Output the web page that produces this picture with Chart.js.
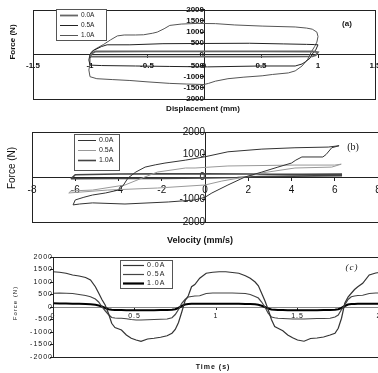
<!DOCTYPE html>
<html lang="en">
<head>
<meta charset="UTF-8">
<title>Damper force curves</title>
<script src="https://cdn.jsdelivr.net/npm/chart.js"></script>
<style>
  html, body { margin: 0; padding: 0; background: #fff; overflow: hidden; width: 378px; height: 373px; }
  canvas { position: absolute; left: 0; }
</style>
</head>
<body>
<canvas id="chartA" width="400" height="118" style="top:0px"></canvas>
<canvas id="chartB" width="400" height="128" style="top:118px"></canvas>
<canvas id="chartC" width="400" height="127" style="top:246px"></canvas>
<script>
// (a) force vs displacement
const dispA0 = [-1.0, -0.98, -0.95, -0.5, 0, 0.5, 0.95, 1.0, 0.98, 0.95, 0.5, 0, -0.5, -0.95, -1.0];
const forceA0 = [-100, 60, 130, 140, 140, 140, 130, 100, -40, -90, -100, -100, -100, -100, -100];
const dispA05 = [-1.0, -0.98, -0.96, -0.9, -0.85, -0.65, -0.36, 0, 0.4, 0.7, 0.9, 0.97, 1.0, 0.98, 0.95, 0.93, 0.89, 0.86, 0.8, 0.5, 0.03, -0.3, -0.6, -0.9, -1.0, -1.01, -1.0];
const forceA05 = [0, 120, 200, 350, 430, 430, 480, 490, 500, 470, 450, 440, 430, 200, 20, -170, -330, -430, -520, -520, -560, -540, -520, -500, -480, -250, 0];
const dispA10 = [-1.0, -0.985, -0.95, -0.88, -0.82, -0.76, -0.7, -0.6, -0.53, -0.45, -0.41, -0.35, -0.3, -0.2, -0.06, 0.1, 0.27, 0.51, 0.8, 0.9, 0.95, 0.99, 1.0, 0.99, 0.97, 0.94, 0.91, 0.86, 0.8, 0.74, 0.6, 0.51, 0.35, 0.21, 0.1, 0.04, 0.0, -0.15, -0.3, -0.5, -0.65, -0.8, -0.94, -1.0, -1.01, -1.0, -1.0, -1.0];
const forceA10 = [0, 130, 250, 450, 650, 830, 870, 870, 880, 950, 1000, 1150, 1300, 1360, 1390, 1380, 1320, 1270, 1230, 1180, 1130, 1000, 800, 550, 350, 100, -220, -520, -740, -830, -900, -960, -1020, -1090, -1200, -1300, -1350, -1330, -1300, -1230, -1170, -1130, -1090, -1000, -700, -430, -200, 0];

// (b) force vs velocity
const velB0 = [-6.1, -6.0, -5.6, -5.2, -4.6, -4.0, -3.8, -3.56, -3.2, -2.77, -2.3, -1.85, -0.9, 0, 1.06, 2.63, 4.16, 5.7, 6.2, 5.86, 5.6, 5.45, 4.48, 4.2, 4.0, 3.37, 2.63, 1.85, 1.06, 0.32, 0, -0.46, -1.7, -3.7, -5.2, -5.8, -6.1];
const forceB0 = [-1240, -1020, -900, -800, -710, -580, -400, -44, 220, 440, 540, 620, 750, 900, 1120, 1240, 1300, 1330, 1390, 1300, 1000, 890, 890, 750, 620, 440, 220, 0, -355, -710, -900, -1020, -1110, -1200, -1150, -1200, -1240];
const velB05 = [-6.3, -6.2, -5.2, -3.7, -2.9, -2.2, -0.9, -0.46, 1.06, 4.16, 6.0, 6.3, 5.86, 4.16, 2.63, 1.85, 0.78, 0, -2.2, -4.5, -6.3];
const forceB05 = [-710, -620, -580, -355, -44, 220, 400, 400, 490, 530, 530, 570, 440, 400, 180, 0, -180, -355, -490, -580, -710];
const velB10 = [-6.2, -6.0, -4.0, -2.0, 0, 2.0, 3.0, 4.5, 6.3, 6.3, 4.0, 2.5, 1.5, 0, -2.0, -4.0, -6.2];
const forceB10 = [-80, 100, 130, 140, 140, 130, 120, 120, 130, 60, 40, 20, -20, -40, -60, -70, -80];

// (c) force vs time
const timeC = [0, 0.04, 0.08, 0.12, 0.16, 0.2, 0.23, 0.26, 0.28, 0.3,
  0.32, 0.34, 0.36, 0.38, 0.4, 0.42, 0.45, 0.48, 0.51, 0.54,
  0.58, 0.62, 0.66, 0.7, 0.73, 0.75, 0.77, 0.79, 0.81, 0.83,
  0.85, 0.87, 0.9, 0.94, 0.98, 1.02, 1.06, 1.1, 1.14, 1.18,
  1.21, 1.24, 1.26, 1.28, 1.3, 1.32, 1.34, 1.36, 1.38, 1.41,
  1.44, 1.47, 1.5, 1.54, 1.58, 1.62, 1.66, 1.7, 1.73, 1.75,
  1.77, 1.79, 1.81, 1.83, 1.85, 1.87, 1.9, 1.94, 1.98, 2.0];
const forceC0 = [1410, 1390, 1350, 1280, 1240, 1180, 1080, 810, 560, 300,
  80, -250, -650, -820, -870, -920, -1120, -1250, -1320, -1370,
  -1280, -1250, -1210, -1150, -1050, -900, -620, -200, 250, 450,
  810, 900, 1150, 1350, 1390, 1410, 1410, 1380, 1350, 1250,
  1150, 1000, 850, 550, 250, -100, -500, -780, -850, -950,
  -1120, -1230, -1320, -1370, -1260, -1240, -1200, -1120, -1050, -850,
  -450, 150, 400, 550, 700, 810, 950, 1280, 1360, 1380];
const forceC05 = [550, 560, 550, 540, 500, 460, 410, 320, 200, 10,
  -150, -300, -420, -440, -450, -450, -470, -500, -520, -520,
  -510, -500, -490, -480, -430, -300, -100, 150, 300, 400,
  420, 440, 450, 540, 560, 560, 560, 560, 550, 540,
  500, 420, 360, 200, 0, -250, -400, -430, -450, -460,
  -470, -480, -480, -480, -470, -460, -460, -450, -400, -320,
  -100, 80, 300, 410, 440, 460, 470, 540, 560, 560];
const forceC10 = [150, 140, 140, 130, 130, 120, 110, 90, 60, 20,
  -40, -90, -110, -120, -120, -120, -130, -130, -130, -130,
  -130, -130, -120, -120, -110, -90, -40, 40, 100, 120,
  130, 130, 130, 130, 130, 130, 130, 130, 130, 120,
  120, 110, 90, 50, 0, -60, -100, -110, -120, -120,
  -130, -130, -130, -130, -130, -130, -120, -120, -110, -90,
  -40, 40, 100, 120, 120, 130, 130, 130, 130, 130];

const seriesLabels = ['0.0A', '0.5A', '1.0A'];

const SANS = "'Liberation Sans', Arial, sans-serif";
const SERIF = "'Liberation Serif', 'Times New Roman', serif";

function zip(xs, ys) {
  const n = Math.min(xs.length, ys.length);
  const out = [];
  for (let i = 0; i < n; i++) out.push({ x: xs[i], y: ys[i] });
  return out;
}

function line(label, xs, ys, color, width) {
  return {
    label: label,
    data: zip(xs, ys),
    borderColor: color,
    borderWidth: width,
    pointRadius: 0,
    fill: false,
    tension: 0
  };
}

// frame, inner legend box, axis titles and panel tag
const panelDecor = {
  id: 'panelDecor',
  beforeUpdate(chart, args, opts) { if (opts.spacing) chart.ctx.letterSpacing = opts.spacing; },
  beforeDraw(chart, args, opts) { if (opts.spacing) chart.ctx.letterSpacing = opts.spacing; },
  afterDraw(chart, args, opts) {
    const ctx = chart.ctx;
    const a = chart.chartArea;
    ctx.save();
    ctx.strokeStyle = '#222';
    ctx.lineWidth = 1;
    ctx.strokeRect(Math.round(a.left) + 0.5, Math.round(a.top) + 0.5,
      Math.round(a.right - a.left), Math.round(a.bottom - a.top));

    const L = opts.legend;
    ctx.fillStyle = '#fff';
    ctx.fillRect(L.x, L.y, L.w, L.h);
    ctx.strokeStyle = '#555';
    ctx.strokeRect(L.x + 0.5, L.y + 0.5, L.w, L.h);
    ctx.font = L.font;
    ctx.textBaseline = 'middle';
    ctx.textAlign = 'left';
    chart.data.datasets.forEach((ds, i) => {
      const y = Math.round(L.y + L.first + i * L.row) + 0.5;
      ctx.strokeStyle = ds.borderColor;
      ctx.lineWidth = ds.borderWidth;
      ctx.beginPath();
      ctx.moveTo(L.x + L.lineFrom, y);
      ctx.lineTo(L.x + L.lineTo, y);
      ctx.stroke();
      ctx.fillStyle = '#222';
      ctx.fillText(ds.label, L.x + L.textX, y);
    });

    (opts.texts || []).forEach(t => {
      ctx.save();
      ctx.font = t.font;
      ctx.fillStyle = '#111';
      ctx.textAlign = 'center';
      ctx.textBaseline = 'middle';
      ctx.translate(t.x, t.y);
      if (t.rot) ctx.rotate(t.rot);
      ctx.fillText(t.text, 0, 0);
      ctx.restore();
    });
    ctx.restore();
  }
};

function axis(posObj, min, max, step, font, tickLen, pad, lineColor) {
  return {
    type: 'linear',
    position: posObj,
    min: min,
    max: max,
    ticks: {
      stepSize: step,
      autoSkip: false,
      maxRotation: 0,
      color: '#111',
      font: font,
      padding: pad,
      callback: v => String(v)
    },
    grid: { drawOnChartArea: false, drawTicks: true, tickLength: tickLen, color: '#222' },
    border: { display: true, color: lineColor || '#222', width: 1 }
  };
}

function makeChart(id, datasets, scales, padding, decor) {
  return new Chart(document.getElementById(id), {
    type: 'line',
    data: { datasets: datasets },
    options: {
      responsive: false,
      animation: false,
      layout: { padding: padding },
      scales: scales,
      plugins: {
        legend: { display: false },
        tooltip: { enabled: false },
        panelDecor: decor
      }
    },
    plugins: [panelDecor]
  });
}

// panel (a)
const fontA = { family: SANS, size: 8, weight: 'bold' };
makeChart('chartA', [
  line(seriesLabels[0], dispA0, forceA0, '#666', 1.8),
  line(seriesLabels[1], dispA05, forceA05, '#222', 1),
  line(seriesLabels[2], dispA10, forceA10, '#555', 1)
], {
  x: axis({ y: 0 }, -1.5, 1.5, 0.5, fontA, 3, 4),
  y: axis({ x: 0 }, -2000, 2000, 500, fontA, 3, 5)
}, { left: 33, top: 7, right: 25, bottom: 19 }, {
  legend: { x: 56, y: 9, w: 50, h: 31, first: 6, row: 10, lineFrom: 4, lineTo: 22, textX: 25, font: '6.5px ' + SANS },
  texts: [
    { text: 'Force (N)', x: 13, y: 42, rot: -Math.PI / 2, font: 'bold 8px ' + SANS },
    { text: 'Displacement (mm)', x: 203, y: 109, font: 'bold 8px ' + SANS },
    { text: '(a)', x: 347, y: 24, font: 'bold 8px ' + SANS }
  ]
});

// panel (b)
const fontB = { family: SANS, size: 10 };
makeChart('chartB', [
  line(seriesLabels[0], velB0, forceB0, '#333', 1),
  line(seriesLabels[1], velB05, forceB05, '#999', 1),
  line(seriesLabels[2], velB10, forceB10, '#444', 1.6)
], {
  x: axis({ y: 0 }, -8, 8, 2, fontB, 3, 4),
  y: axis({ x: 0 }, -2000, 2000, 1000, fontB, 3, 6)
}, { left: 32, top: 14, right: 22, bottom: 24 }, {
  legend: { x: 74, y: 16, w: 45, h: 36, first: 6, row: 10, lineFrom: 4, lineTo: 22, textX: 25, font: '7px ' + SANS },
  texts: [
    { text: 'Force (N)', x: 12, y: 50, rot: -Math.PI / 2, font: '10px ' + SANS },
    { text: 'Velocity (mm/s)', x: 200, y: 123, font: 'bold 9px ' + SANS },
    { text: '(b)', x: 353, y: 29, font: '10px ' + SERIF }
  ]
});

// panel (c)
const fontC = { family: SANS, size: 7 };
makeChart('chartC', [
  line(seriesLabels[0], timeC, forceC0, '#333', 1.2),
  line(seriesLabels[1], timeC, forceC05, '#444', 1.2),
  line(seriesLabels[2], timeC, forceC10, '#000', 2.2)
], {
  x: axis({ y: 0 }, 0, 2, 0.5, fontC, 2, 3, '#888'),
  y: axis({ x: 0 }, -2000, 2000, 500, fontC, 3, 6)
}, { left: 53, top: 11, right: 21, bottom: 16 }, {
  spacing: '1px',
  legend: { x: 120, y: 14, w: 52, h: 28, first: 5, row: 9, lineFrom: 3, lineTo: 24, textX: 27, font: '7px ' + SANS },
  texts: [
    { text: 'Force (N)', x: 15, y: 57, rot: -Math.PI / 2, font: '6px ' + SANS },
    { text: 'Time (s)', x: 213, y: 121, font: 'bold 7px ' + SANS },
    { text: '(c)', x: 352, y: 22, font: 'italic 9px ' + SERIF }
  ]
});
</script>
</body>
</html>
